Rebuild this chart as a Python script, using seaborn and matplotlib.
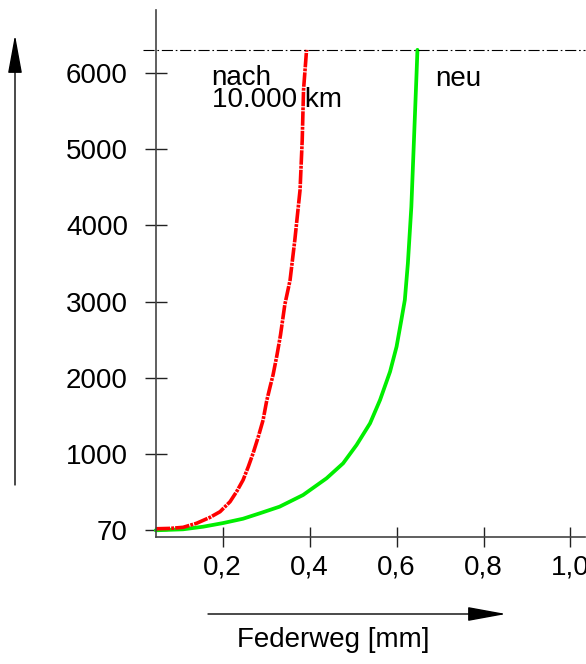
import matplotlib
matplotlib.use('Agg')
import matplotlib.pyplot as plt
import numpy as np
import pandas as pd
import seaborn as sns

# Federweg [mm] vs. Kraft
x_nach = [0.046, 0.079, 0.109, 0.140, 0.171, 0.194, 0.217, 0.232, 0.247, 0.259,
          0.270, 0.282, 0.293, 0.301, 0.309, 0.316, 0.325, 0.333, 0.343, 0.355,
          0.366, 0.378, 0.383, 0.386, 0.393]
y_nach = [20, 25, 39, 92, 170, 244, 375, 506, 660, 834,
          1010, 1227, 1446, 1690, 1880, 2040, 2300, 2560, 2960, 3279,
          3807, 4462, 5118, 5774, 6300]

x_neu = [0.046, 0.109, 0.155, 0.201, 0.247, 0.286, 0.331, 0.385, 0.439, 0.477,
         0.508, 0.539, 0.562, 0.585, 0.600, 0.611, 0.619, 0.626, 0.634, 0.640,
         0.646, 0.648]
y_neu = [0, 13, 47, 95, 152, 224, 310, 463, 682, 878,
         1119, 1403, 1709, 2080, 2408, 2758, 3020, 3500, 4243, 5118,
         5993, 6300]

y_max_line = 6300
y_ticks = [0, 1000, 2000, 3000, 4000, 5000, 6000]
y_ticklabels = ['70', '1000', '2000', '3000', '4000', '5000', '6000']
x_ticks = [0.2, 0.4, 0.6, 0.8, 1.0]
x_ticklabels = ['0,2', '0,4', '0,6', '0,8', '1,0']

sns.set_style('ticks')
plt.rcParams['font.family'] = ['Liberation Sans', 'DejaVu Sans']
plt.rcParams['text.color'] = 'black'
plt.rcParams['xtick.labelcolor'] = 'black'
plt.rcParams['ytick.labelcolor'] = 'black'

fig = plt.figure(figsize=(5.86, 6.64), dpi=100)
ax = fig.add_axes([0.2657, 0.1917, 0.998 - 0.2657, 0.985 - 0.1917])

df_nach = pd.DataFrame({'x': x_nach, 'y': y_nach})
df_neu = pd.DataFrame({'x': x_neu, 'y': y_neu})

sns.lineplot(data=df_neu, x='x', y='y', ax=ax, sort=False, color='#00ee00',
             linewidth=2.7, clip_on=False, solid_joinstyle='round')
sns.lineplot(data=df_nach, x='x', y='y', ax=ax, sort=False, color='#ff0000',
             linewidth=2.6, clip_on=False)
ax.lines[-1].set_dashes([4, 0.3, 0.8, 0.3])
ax.lines[-1].set_dash_joinstyle('round')

ax.plot([0.017, 1.033], [y_max_line, y_max_line], color='black', linewidth=0.8,
        linestyle=(0, (10, 2.5, 1.5, 2.5)), clip_on=False)

ax.set_xlim(0.046, 1.033)
ax.set_ylim(-84, 6823)
ax.set_xticks(x_ticks)
ax.set_xticklabels(x_ticklabels)
ax.set_yticks(y_ticks)
ax.set_yticklabels(y_ticklabels)
ax.tick_params(axis='y', direction='inout', length=16, width=1, color='#222222',
               labelsize=20, pad=12, left=True)
ax.tick_params(axis='x', direction='inout', length=14, width=1, color='#222222',
               labelsize=20, pad=6, bottom=True)
ax.set_xlabel('')
ax.set_ylabel('')

for side in ['top', 'right']:
    ax.spines[side].set_visible(False)
for side in ['left', 'bottom']:
    ax.spines[side].set_color('#444444')
    ax.spines[side].set_linewidth(1.2)

ax.text(0.1745, 5551, 'nach\n10.000 km', fontsize=20, ha='left', va='baseline',
        linespacing=0.8)
ax.text(0.688, 5826, 'neu', fontsize=20, ha='left', va='baseline')

# axis arrows outside the plot
arrow = dict(arrowstyle='-|>,head_length=1.2,head_width=0.22', mutation_scale=20,
             color='black', lw=1, shrinkA=0, shrinkB=0)
ax.annotate('', xy=(15, 629), xytext=(15, 179), xycoords='figure pixels',
            textcoords='figure pixels', arrowprops=arrow)
ax.annotate('', xy=(506, 50), xytext=(208, 50), xycoords='figure pixels',
            textcoords='figure pixels', arrowprops=arrow)
fig.text(333 / 586, 1 - 640 / 664, 'Federweg [mm]', fontsize=20, ha='center', va='center')

plt.savefig('out.png', dpi=100)
